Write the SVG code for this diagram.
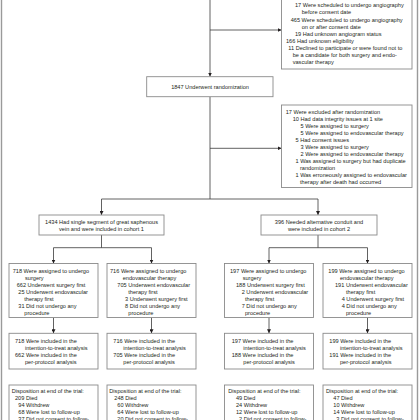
<svg xmlns="http://www.w3.org/2000/svg" width="420" height="420" viewBox="0 0 420 420">
<style>
.b{fill:#fff;stroke:#8a8a8a;stroke-width:0.9}
.c{fill:none;stroke:#3a3a3a;stroke-width:0.8}
.f{stroke:#9a9a9a;stroke-width:1.4}
text{font-family:"Liberation Sans",Arial,sans-serif;font-size:5.6px;fill:#231f20}
.m{text-anchor:middle}
</style>
<defs>
<marker id="a" viewBox="0 0 6 6" refX="6" refY="3" markerWidth="4" markerHeight="4" orient="auto" markerUnits="userSpaceOnUse">
<path d="M0,0 L6,3 L0,6 z" fill="#231f20"/>
</marker>
</defs>
<rect width="420" height="420" fill="#fff"/>
<line class="f" x1="1.5" y1="0" x2="1.5" y2="420"/>
<line class="f" x1="417.5" y1="0" x2="417.5" y2="420"/>

<g id="connectors">
<path class="c" d="M210,0 V76.5" marker-end="url(#a)"/>
<path class="c" d="M210,30 H281.5" marker-end="url(#a)"/>
<path class="c" d="M210,96.7 V199"/>
<path class="c" d="M210,148.3 H281.5" marker-end="url(#a)"/>
<path class="c" d="M101.5,199 H318"/>
<path class="c" d="M101.5,199 V215" marker-end="url(#a)"/>
<path class="c" d="M318,199 V215" marker-end="url(#a)"/>
<path class="c" d="M101.5,235 V247.7 M53.5,247.7 H151.5"/>
<path class="c" d="M53.5,247.7 V263.5" marker-end="url(#a)"/>
<path class="c" d="M151.5,247.7 V263.5" marker-end="url(#a)"/>
<path class="c" d="M318,235 V247.7 M269,247.7 H367.5"/>
<path class="c" d="M269,247.7 V263.5" marker-end="url(#a)"/>
<path class="c" d="M367.5,247.7 V263.5" marker-end="url(#a)"/>
<path class="c" d="M53.5,317.5 V333.3" marker-end="url(#a)"/>
<path class="c" d="M151.5,317.5 V333.3" marker-end="url(#a)"/>
<path class="c" d="M269,317.5 V333.3" marker-end="url(#a)"/>
<path class="c" d="M367.5,317.5 V333.3" marker-end="url(#a)"/>
</g>

<g id="excluded-before">
<rect class="b" x="281.5" y="-5" width="130.5" height="74"/>
<text x="295" y="7.4">17 Were scheduled to undergo angiography</text>
<text x="301.7" y="14.45">before consent date</text>
<text x="290.7" y="21.5">465 Were scheduled to undergo angiography</text>
<text x="301.7" y="28.55">on or after consent date</text>
<text x="295" y="35.6">19 Had unknown angiogram status</text>
<text x="286" y="42.65">166 Had unknown eligibility</text>
<text x="288.3" y="49.7">11 Declined to participate or were found not to</text>
<text x="292.7" y="56.75">be a candidate for both surgery and endo-</text>
<text x="292.7" y="63.8">vascular therapy</text>
</g>

<g id="randomization">
<rect class="b" x="146.7" y="76.7" width="126.3" height="20"/>
<text class="m" x="210" y="88.8">1847 Underwent randomization</text>
</g>

<g id="excluded-after">
<rect class="b" x="281.5" y="105" width="130.5" height="82.5"/>
<text x="285.7" y="113.5">17 Were excluded after randomization</text>
<text x="292.7" y="120.55">10 Had data integrity issues at 1 site</text>
<text x="300.5" y="127.6">5 Were assigned to surgery</text>
<text x="300.5" y="134.65">5 Were assigned to endovascular therapy</text>
<text x="295.5" y="141.7">5 Had consent issues</text>
<text x="300.5" y="148.75">3 Were assigned to surgery</text>
<text x="300.5" y="155.8">2 Were assigned to endovascular therapy</text>
<text x="295.5" y="162.85">1 Was assigned to surgery but had duplicate</text>
<text x="300" y="169.9">randomization</text>
<text x="295.5" y="176.95">1 Was erroneously assigned to endovascular</text>
<text x="300" y="184">therapy after death had occurred</text>
</g>

<g id="cohort1">
<rect class="b" x="39" y="215" width="125" height="20"/>
<text class="m" x="101.5" y="223.5">1434 Had single segment of great saphenous</text>
<text class="m" x="101.5" y="230.8">vein and were included in cohort 1</text>
</g>

<g id="cohort2">
<rect class="b" x="261" y="215" width="116" height="20"/>
<text class="m" x="319" y="223.5">396 Needed alternative conduit and</text>
<text class="m" x="319" y="230.8">were included in cohort 2</text>
</g>

<g id="assign1">
<rect class="b" x="9" y="263.5" width="89" height="54"/>
<text x="12.7" y="272.5">718 Were assigned to undergo</text>
<text x="25" y="279.55">surgery</text>
<text x="16.7" y="286.6">662 Underwent surgery first</text>
<text x="18.3" y="293.65">25 Underwent endovascular</text>
<text x="24.3" y="300.7">therapy first</text>
<text x="18.3" y="307.75">31 Did not undergo any</text>
<text x="24.3" y="314.8">procedure</text>
</g>

<g id="assign2">
<rect class="b" x="107" y="263.5" width="89" height="54"/>
<text x="110" y="272.5">716 Were assigned to undergo</text>
<text x="122.7" y="279.55">endovascular therapy</text>
<text x="117.3" y="286.6">705 Underwent endovascular</text>
<text x="128.3" y="293.65">therapy first</text>
<text x="125" y="300.7">3 Underwent surgery first</text>
<text x="125" y="307.75">8 Did not undergo any</text>
<text x="128.3" y="314.8">procedure</text>
</g>

<g id="assign3">
<rect class="b" x="224.5" y="263.5" width="89" height="54"/>
<text x="230" y="272.5">197 Were assigned to undergo</text>
<text x="242.7" y="279.55">surgery</text>
<text x="236" y="286.6">188 Underwent surgery first</text>
<text x="241.7" y="293.65">2 Underwent endovascular</text>
<text x="245" y="300.7">therapy first</text>
<text x="241.7" y="307.75">7 Did not undergo any</text>
<text x="245" y="314.8">procedure</text>
</g>

<g id="assign4">
<rect class="b" x="323" y="263.5" width="89" height="54"/>
<text x="328.3" y="272.5">199 Were assigned to undergo</text>
<text x="340" y="279.55">endovascular therapy</text>
<text x="335" y="286.6">191 Underwent endovascular</text>
<text x="346" y="293.65">therapy first</text>
<text x="341.7" y="300.7">4 Underwent surgery first</text>
<text x="341.7" y="307.75">4 Did not undergo any</text>
<text x="346" y="314.8">procedure</text>
</g>

<g id="itt1">
<rect class="b" x="9" y="333.3" width="89" height="35.7"/>
<text x="15" y="342.5">718 Were included in the</text>
<text x="25" y="349.55">intention-to-treat analysis</text>
<text x="15" y="356.6">662 Were included in the</text>
<text x="25" y="363.65">per-protocol analysis</text>
</g>

<g id="itt2">
<rect class="b" x="107" y="333.3" width="89" height="35.7"/>
<text x="113.3" y="342.5">716 Were included in the</text>
<text x="123.3" y="349.55">intention-to-treat analysis</text>
<text x="113.3" y="356.6">705 Were included in the</text>
<text x="123.3" y="363.65">per-protocol analysis</text>
</g>

<g id="itt3">
<rect class="b" x="224.5" y="333.3" width="89" height="35.7"/>
<text x="231.7" y="342.5">197 Were included in the</text>
<text x="243.3" y="349.55">intention-to-treat analysis</text>
<text x="231.7" y="356.6">188 Were included in the</text>
<text x="243.3" y="363.65">per-protocol analysis</text>
</g>

<g id="itt4">
<rect class="b" x="323" y="333.3" width="89" height="35.7"/>
<text x="329.3" y="342.5">199 Were included in the</text>
<text x="340" y="349.55">intention-to-treat analysis</text>
<text x="329.3" y="356.6">191 Were included in the</text>
<text x="340" y="363.65">per-protocol analysis</text>
</g>

<g id="disp1">
<rect class="b" x="9" y="385" width="89" height="45"/>
<text x="11.7" y="392.5">Disposition at end of the trial:</text>
<text x="15" y="399.55">209 Died</text>
<text x="18.3" y="406.6">94 Withdrew</text>
<text x="18.3" y="413.65">68 Were lost to follow-up</text>
<text x="18.3" y="420.7">37 Did not consent to follow-</text>
</g>

<g id="disp2">
<rect class="b" x="107" y="385" width="89" height="45"/>
<text x="109.3" y="392.5">Disposition at end of the trial:</text>
<text x="114.3" y="399.55">248 Died</text>
<text x="117.3" y="406.6">60 Withdrew</text>
<text x="117.3" y="413.65">64 Were lost to follow-up</text>
<text x="117.3" y="420.7">20 Did not consent to follow-</text>
</g>

<g id="disp3">
<rect class="b" x="224.5" y="385" width="89" height="45"/>
<text x="228.3" y="392.5">Disposition at end of the trial:</text>
<text x="236" y="399.55">49 Died</text>
<text x="236" y="406.6">24 Withdrew</text>
<text x="236" y="413.65">12 Were lost to follow-up</text>
<text x="239" y="420.7">2 Did not consent to follow-</text>
</g>

<g id="disp4">
<rect class="b" x="323" y="385" width="89" height="45"/>
<text x="326" y="392.5">Disposition at end of the trial:</text>
<text x="333.3" y="399.55">47 Died</text>
<text x="333.3" y="406.6">10 Withdrew</text>
<text x="333.3" y="413.65">14 Were lost to follow-up</text>
<text x="336.3" y="420.7">3 Did not consent to follow-</text>
</g>
</svg>
